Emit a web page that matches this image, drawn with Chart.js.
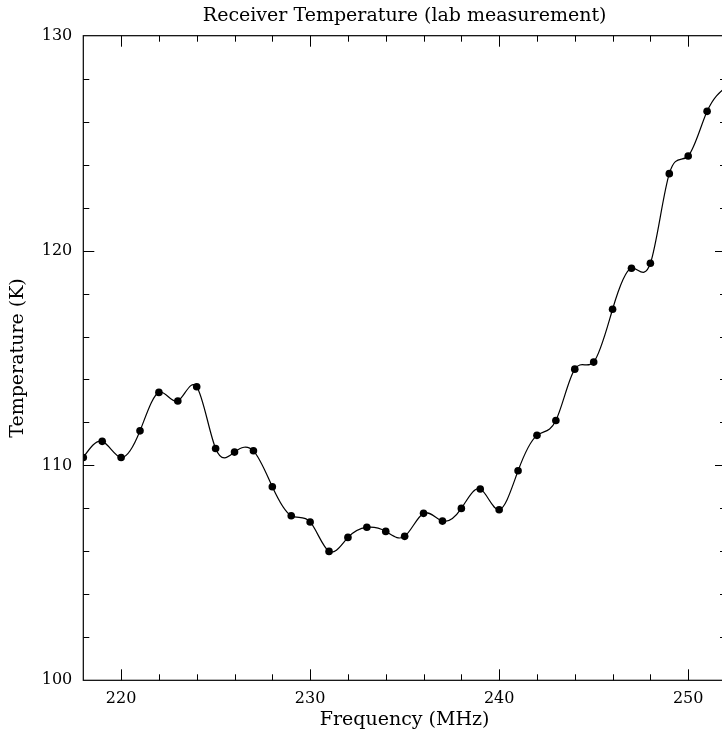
<!DOCTYPE html>
<html>
<head>
<meta charset="utf-8">
<script src="https://cdn.jsdelivr.net/npm/chart.js@4/dist/chart.umd.min.js"></script>
<style>
html, body { margin: 0; padding: 0; background: #fff; overflow: hidden; }
#wrap { width: 730px; height: 735px; }
</style>
</head>
<body>
<div id="wrap"><canvas id="c" width="730" height="735"></canvas></div>
<script>
// ---- data ----
const frequencies = [218, 219, 220, 221, 222, 223, 224, 225, 226, 227, 228, 229, 230, 231, 232, 233, 234, 235,
                     236, 237, 238, 239, 240, 241, 242, 243, 244, 245, 246, 247, 248, 249, 250, 251, 252];
const temperatures = [110.37, 111.12, 110.37, 111.61, 113.40, 113.00, 113.66, 110.79, 110.62, 110.68, 109.01, 107.66,
                      107.37, 106.00, 106.65, 107.12, 106.93, 106.70, 107.77, 107.41, 108.00, 108.90, 107.94, 109.75,
                      111.40, 112.09, 114.48, 114.81, 117.27, 119.18, 119.41, 123.58, 124.40, 126.48, 127.6];
const xTickLabels = [220, 230, 240, 250];
const yTickLabels = [100, 110, 120, 130];
const xRange = [218, 252];
const yRange = [100, 130];
const minorStep = 2;
const titleText = 'Receiver Temperature (lab measurement)';
const xTitle = 'Frequency (MHz)';
const yTitle = 'Temperature (K)';

const FONT = 'DejaVu Serif';

// natural cubic spline control points (interpolation style only)
const naturalSpline = {
  id: 'naturalSpline',
  beforeDatasetDraw(chart, args) {
    const meta = chart.getDatasetMeta(args.index);
    const line = meta.dataset;
    if (!line) return;
    line.updateControlPoints(chart.chartArea, meta.indexAxis);
    const p = meta.data;
    const n = p.length;
    if (n < 3) return;
    const h = [], M = new Array(n).fill(0);
    for (let i = 0; i < n - 1; i++) h.push(p[i + 1].x - p[i].x);
    const a = [], b = [], c = [], d = [];
    for (let i = 1; i < n - 1; i++) {
      a.push(h[i - 1]);
      b.push(2 * (h[i - 1] + h[i]));
      c.push(h[i]);
      d.push(6 * ((p[i + 1].y - p[i].y) / h[i] - (p[i].y - p[i - 1].y) / h[i - 1]));
    }
    const m = b.length;
    for (let i = 1; i < m; i++) {
      const w = a[i] / b[i - 1];
      b[i] -= w * c[i - 1];
      d[i] -= w * d[i - 1];
    }
    const sol = new Array(m);
    sol[m - 1] = d[m - 1] / b[m - 1];
    for (let i = m - 2; i >= 0; i--) sol[i] = (d[i] - c[i] * sol[i + 1]) / b[i];
    for (let i = 0; i < m; i++) M[i + 1] = sol[i];
    const slope = new Array(n);
    for (let i = 0; i < n - 1; i++) {
      slope[i] = (p[i + 1].y - p[i].y) / h[i] - h[i] * (2 * M[i] + M[i + 1]) / 6;
    }
    slope[n - 1] = (p[n - 1].y - p[n - 2].y) / h[n - 2] + h[n - 2] * (M[n - 2] + 2 * M[n - 1]) / 6;
    for (let i = 0; i < n; i++) {
      const hp = i > 0 ? h[i - 1] : 0;
      const hn = i < n - 1 ? h[i] : 0;
      p[i].cp1x = p[i].x - hp / 3;
      p[i].cp1y = p[i].y - slope[i] * hp / 3;
      p[i].cp2x = p[i].x + hn / 3;
      p[i].cp2y = p[i].y + slope[i] * hn / 3;
    }
    line._path = undefined;
  }
};

const frameTicks = {
  id: 'frameTicks',
  afterDatasetsDraw(chart) {
    const ctx = chart.ctx;
    const a = chart.chartArea;
    const xs = chart.scales.x, ys = chart.scales.y;
    ctx.save();
    ctx.strokeStyle = '#000';
    ctx.lineWidth = 1.2;
    ctx.strokeRect(a.left, a.top, a.right - a.left, a.bottom - a.top);
    ctx.lineWidth = 1;
    ctx.beginPath();
    for (let v = xRange[0] + minorStep; v < xRange[1]; v += minorStep) {
      const px = Math.round(xs.getPixelForValue(v)) + 0.5;
      const len = xTickLabels.includes(v) ? 11 : 6;
      ctx.moveTo(px, a.bottom); ctx.lineTo(px, a.bottom - len);
      ctx.moveTo(px, a.top); ctx.lineTo(px, a.top + len);
    }
    for (let v = yRange[0] + minorStep; v < yRange[1]; v += minorStep) {
      const py = Math.round(ys.getPixelForValue(v)) + 0.5;
      const len = yTickLabels.includes(v) ? 11 : 6;
      ctx.moveTo(a.left, py); ctx.lineTo(a.left + len, py);
      ctx.moveTo(a.right, py); ctx.lineTo(a.right - len, py);
    }
    ctx.stroke();
    ctx.restore();
  }
};

new Chart(document.getElementById('c'), {
  type: 'line',
  data: {
    datasets: [{
      data: frequencies.map((f, i) => ({ x: f, y: temperatures[i] })),
      borderColor: '#000',
      borderWidth: 1.2,
      backgroundColor: '#000',
      pointBackgroundColor: '#000',
      pointBorderColor: '#000',
      pointRadius: 3.8,
      pointBorderWidth: 0,
      tension: 0.4,
      fill: false
    }]
  },
  options: {
    responsive: false,
    animation: false,
    devicePixelRatio: 1,
    layout: { padding: { left: 0, right: 4, top: 0, bottom: 0 } },
    plugins: {
      legend: { display: false },
      tooltip: { enabled: false },
      title: {
        display: true,
        fullSize: false,
        text: titleText,
        color: '#000',
        font: { family: FONT, size: 19, weight: 'normal', lineHeight: 1.2 },
        padding: { top: 5, bottom: 7.9 }
      }
    },
    scales: {
      x: {
        type: 'linear',
        min: xRange[0], max: xRange[1],
        afterBuildTicks: s => { s.ticks = xTickLabels.map(v => ({ value: v })); },
        afterFit: s => { s.height = 54.7; },
        grid: { display: false, drawTicks: false },
        border: { display: false },
        ticks: { color: '#000', padding: 9, maxRotation: 0, font: { family: FONT, size: 16 } },
        title: { display: true, text: xTitle, color: '#000', font: { family: FONT, size: 19, lineHeight: 1.2 }, padding: { top: 0, bottom: 3.6 } }
      },
      y: {
        type: 'linear',
        min: yRange[0], max: yRange[1],
        afterBuildTicks: s => { s.ticks = yTickLabels.map(v => ({ value: v })); },
        afterFit: s => { s.width = 83.3; },
        grid: { display: false, drawTicks: false },
        border: { display: false },
        ticks: { color: '#000', padding: 11, font: { family: FONT, size: 16 } },
        title: { display: true, text: yTitle, color: '#000', font: { family: FONT, size: 19, lineHeight: 1.2 }, padding: { top: 6.6, bottom: 0 } }
      }
    }
  },
  plugins: [naturalSpline, frameTicks]
});
</script>
</body>
</html>
